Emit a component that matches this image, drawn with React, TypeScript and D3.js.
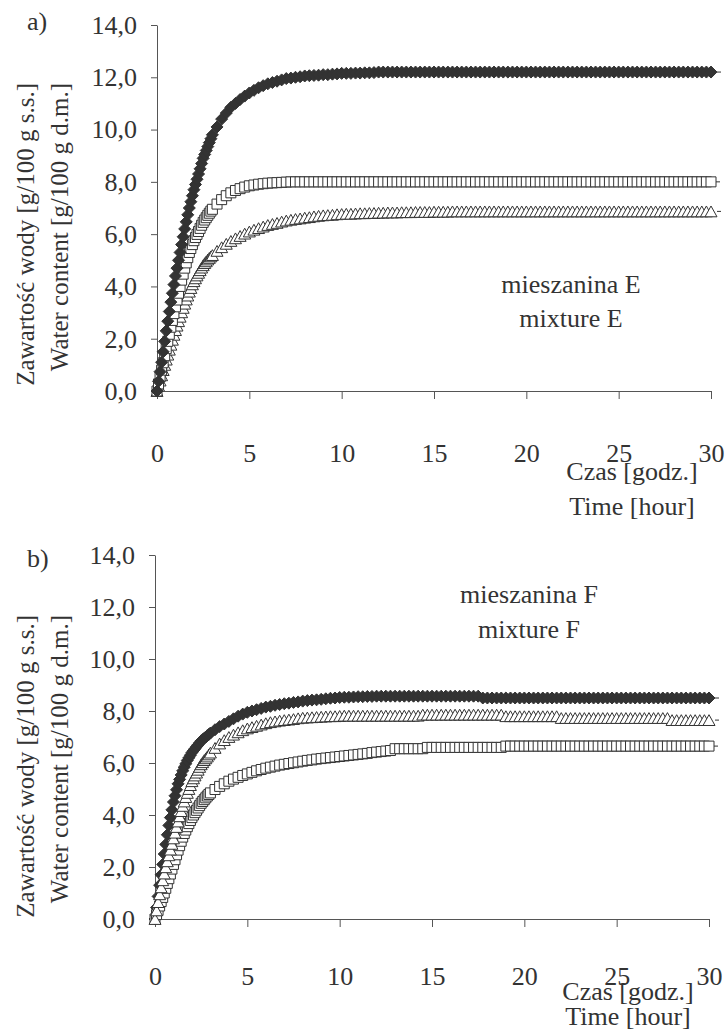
import React, { useEffect, useRef } from "react";
import * as d3 from "d3";

// sampling times in minutes: every 5 min for the first 3 h, then every 15 min
const TIME_MIN = [
    0, 5, 10, 15, 20, 25, 30, 35, 40, 45, 50, 55, 60, 65, 70, 75, 80, 85, 90, 95,
    100, 105, 110, 115, 120, 125, 130, 135, 140, 145, 150, 155, 160, 165, 170, 175,
    180, 195, 210, 225, 240, 255, 270, 285, 300, 315, 330, 345, 360, 375, 390, 405,
    420, 435, 450, 465, 480, 495, 510, 525, 540, 555, 570, 585, 600, 615, 630, 645,
    660, 675, 690, 705, 720, 735, 750, 765, 780, 795, 810, 825, 840, 855, 870, 885,
    900, 915, 930, 945, 960, 975, 990, 1005, 1020, 1035, 1050, 1065, 1080, 1095,
    1110, 1125, 1140, 1155, 1170, 1185, 1200, 1215, 1230, 1245, 1260, 1275, 1290,
    1305, 1320, 1335, 1350, 1365, 1380, 1395, 1410, 1425, 1440, 1455, 1470, 1485,
    1500, 1515, 1530, 1545, 1560, 1575, 1590, 1605, 1620, 1635, 1650, 1665, 1680,
    1695, 1710, 1725, 1740, 1755, 1770, 1785, 1800,
];

// mixture E
const E_DIAMOND = [
    0, 0.37, 0.74, 1.1, 1.5, 1.9, 2.3, 2.67, 3.04, 3.4, 3.74, 4.07, 4.4, 4.7, 5.0, 5.3, 5.6, 5.9,
    6.2, 6.47, 6.74, 7.0, 7.24, 7.47, 7.7, 7.9, 8.1, 8.3, 8.5, 8.7, 8.9, 9.05, 9.2, 9.35, 9.5, 9.65,
    9.8, 10.1, 10.4, 10.63, 10.85, 11.0, 11.15, 11.28, 11.4, 11.5, 11.6, 11.68, 11.75, 11.8, 11.85,
    11.9, 11.95, 11.97, 12.0, 12.02, 12.05, 12.06, 12.07, 12.08, 12.1, 12.1, 12.12, 12.13, 12.15,
    12.15, 12.15, 12.16, 12.16, 12.17, 12.17, 12.18,
    12.2, 12.2, 12.2, 12.2, 12.2, 12.2, 12.2, 12.2, 12.2, 12.2,
    12.2, 12.2, 12.2, 12.2, 12.2, 12.2, 12.2, 12.2, 12.2, 12.2,
    12.2, 12.2, 12.2, 12.2, 12.2, 12.2, 12.2, 12.2, 12.2, 12.2,
    12.2, 12.2, 12.2, 12.2, 12.2, 12.2, 12.2, 12.2, 12.2, 12.2,
    12.2, 12.2, 12.2, 12.2, 12.2, 12.2, 12.2, 12.2, 12.2, 12.2,
    12.2, 12.2, 12.2, 12.2, 12.2, 12.2, 12.2, 12.2, 12.2, 12.2,
    12.2, 12.2, 12.2, 12.2, 12.2, 12.2, 12.2, 12.2, 12.2, 12.2,
    12.2, 12.2, 12.2,
];
const E_SQUARE = [
    0, 0.27, 0.54, 0.8, 1.08, 1.35, 1.62, 1.9, 2.17, 2.44, 2.7, 2.96, 3.22, 3.48, 3.74, 4.0, 4.24,
    4.47, 4.7, 4.9, 5.1, 5.3, 5.45, 5.6, 5.75, 5.87, 5.99, 6.1, 6.22, 6.34, 6.45, 6.54, 6.63, 6.72,
    6.8, 6.88,
    6.95, 7.15, 7.32, 7.47, 7.58, 7.67, 7.74, 7.8, 7.85, 7.88, 7.91, 7.93, 7.95, 7.96, 7.97, 7.98, 7.99,
    8.0, 8.0, 8.0, 8.0, 8.0, 8.0, 8.0, 8.0, 8.0, 8.0,
    8.0, 8.0, 8.0, 8.0, 8.0, 8.0, 8.0, 8.0, 8.0, 8.0,
    8.0, 8.0, 8.0, 8.0, 8.0, 8.0, 8.0, 8.0, 8.0, 8.0,
    8.0, 8.0, 8.0, 8.0, 8.0, 8.0, 8.0, 8.0, 8.0, 8.0,
    8.0, 8.0, 8.0, 8.0, 8.0, 8.0, 8.0, 8.0, 8.0, 8.0,
    8.0, 8.0, 8.0, 8.0, 8.0, 8.0, 8.0, 8.0, 8.0, 8.0,
    8.0, 8.0, 8.0, 8.0, 8.0, 8.0, 8.0, 8.0, 8.0, 8.0,
    8.0, 8.0, 8.0, 8.0, 8.0, 8.0, 8.0, 8.0, 8.0, 8.0,
    8.0, 8.0, 8.0, 8.0, 8.0, 8.0, 8.0, 8.0, 8.0, 8.0,
    8.0, 8.0,
];
const E_TRIANGLE = [
    0, 0.2, 0.4, 0.6, 0.8, 1.0, 1.2, 1.39, 1.58, 1.77, 1.96, 2.15, 2.33, 2.5, 2.67, 2.84,
    3.01, 3.18, 3.34, 3.5, 3.65, 3.8, 3.94, 4.08, 4.2, 4.31, 4.42, 4.52, 4.62, 4.72, 4.81, 4.89,
    4.96, 5.03, 5.09, 5.15,
    5.2, 5.36, 5.5, 5.63, 5.74, 5.84, 5.93, 6.02, 6.1, 6.17, 6.23, 6.29, 6.35, 6.39, 6.43, 6.48,
    6.52, 6.55, 6.58, 6.6, 6.63, 6.65, 6.68, 6.7, 6.72, 6.73, 6.74, 6.76, 6.77, 6.78, 6.78, 6.79,
    6.8, 6.8, 6.81, 6.81, 6.82,
    6.82, 6.83, 6.83, 6.83, 6.84, 6.84, 6.84,
    6.85, 6.85, 6.85, 6.85, 6.86, 6.86, 6.86, 6.86,
    6.87, 6.87, 6.87, 6.87, 6.87, 6.87, 6.87, 6.87, 6.87, 6.87,
    6.87, 6.87, 6.87, 6.87, 6.87, 6.87, 6.87, 6.87, 6.87, 6.87,
    6.87, 6.87, 6.87, 6.87, 6.87, 6.87, 6.87, 6.87, 6.87, 6.87,
    6.87, 6.87, 6.87, 6.87, 6.87, 6.87, 6.87, 6.87, 6.87, 6.87,
    6.87, 6.87, 6.87, 6.87, 6.87, 6.87, 6.87, 6.87, 6.87, 6.87,
    6.87, 6.87, 6.87, 6.87, 6.87, 6.87, 6.87,
];

// mixture F
const F_DIAMOND = [
    0, 0.44, 0.87, 1.3, 1.7, 2.1, 2.5, 2.87, 3.24, 3.6, 3.9, 4.2, 4.5, 4.74, 4.97, 5.2, 5.37, 5.54,
    5.7, 5.84, 5.97, 6.1, 6.2, 6.3, 6.4, 6.48, 6.55, 6.63, 6.7, 6.78, 6.85, 6.9, 6.95, 7.0, 7.05, 7.1,
    7.15, 7.28, 7.4, 7.5, 7.6, 7.7, 7.8, 7.88, 7.95, 8.0, 8.05, 8.1, 8.15, 8.18, 8.22, 8.25, 8.28,
    8.3, 8.33, 8.35, 8.38, 8.4, 8.42, 8.43, 8.45, 8.47, 8.49, 8.5, 8.52, 8.53, 8.53, 8.54, 8.55,
    8.55, 8.56, 8.56,
    8.57, 8.57, 8.57, 8.57, 8.57, 8.57, 8.57, 8.57, 8.57, 8.57,
    8.57, 8.57, 8.57, 8.57, 8.57, 8.57, 8.57, 8.57, 8.57, 8.57,
    8.57, 8.57, 8.57,
    8.5, 8.5, 8.5, 8.5, 8.5, 8.5, 8.5, 8.5, 8.5, 8.5,
    8.5, 8.5, 8.5, 8.5, 8.5, 8.5, 8.5, 8.5, 8.5, 8.5,
    8.5, 8.5, 8.5, 8.5, 8.5, 8.5, 8.5, 8.5, 8.5, 8.5,
    8.5, 8.5, 8.5, 8.5, 8.5, 8.5, 8.5, 8.5, 8.5, 8.5,
    8.5, 8.5, 8.5, 8.5, 8.5, 8.5, 8.5, 8.5, 8.5, 8.5,
];
const F_SQUARE = [
    0, 0.17, 0.33, 0.5, 0.67, 0.83, 1.0, 1.18, 1.37, 1.55, 1.73, 1.92, 2.1, 2.28, 2.47, 2.65, 2.82,
    2.99, 3.15, 3.29, 3.42, 3.55, 3.67, 3.79, 3.9, 4.0, 4.09, 4.18, 4.27, 4.36, 4.45, 4.52, 4.59,
    4.66, 4.73, 4.79,
    4.85, 4.98, 5.1, 5.2, 5.3, 5.38, 5.45, 5.52, 5.58, 5.64, 5.7, 5.75, 5.8, 5.84, 5.88, 5.92, 5.95,
    5.98, 6.01, 6.04, 6.07, 6.1, 6.12, 6.15, 6.17, 6.19, 6.21, 6.23, 6.25, 6.27, 6.29, 6.31, 6.33,
    6.35, 6.37, 6.4,
    6.42, 6.44, 6.46, 6.48,
    6.55, 6.55, 6.55, 6.55, 6.55, 6.55, 6.55,
    6.6, 6.6, 6.6, 6.6, 6.6, 6.6, 6.6, 6.6, 6.6, 6.6, 6.6, 6.6, 6.6, 6.6, 6.6, 6.6, 6.6,
    6.65, 6.65, 6.65, 6.65, 6.65, 6.65, 6.65, 6.65, 6.65, 6.65,
    6.65, 6.65, 6.65, 6.65, 6.65, 6.65, 6.65, 6.65, 6.65, 6.65,
    6.65, 6.65, 6.65, 6.65, 6.65, 6.65, 6.65, 6.65, 6.65, 6.65,
    6.65, 6.65, 6.65, 6.65, 6.65, 6.65, 6.65, 6.65, 6.65, 6.65,
    6.65, 6.65, 6.65, 6.65, 6.65,
];
const F_TRIANGLE = [
    0, 0.33, 0.65, 0.95, 1.22, 1.49, 1.75, 1.99, 2.22, 2.45, 2.67, 2.89, 3.1, 3.32, 3.54, 3.75,
    3.95, 4.15, 4.35, 4.52, 4.69, 4.85, 5.0, 5.15, 5.3, 5.41, 5.52, 5.63, 5.74, 5.85, 5.95, 6.03,
    6.11, 6.18, 6.25, 6.33,
    6.4, 6.58, 6.75, 6.88, 7.0, 7.09, 7.18, 7.26, 7.33, 7.38, 7.43, 7.48, 7.53, 7.57, 7.6, 7.63,
    7.65, 7.67, 7.69, 7.72, 7.74, 7.75, 7.76, 7.77, 7.78, 7.79, 7.8, 7.8, 7.81,
    7.82, 7.82, 7.82, 7.82, 7.82, 7.82, 7.82, 7.82, 7.82, 7.82, 7.82, 7.82, 7.82, 7.82, 7.82, 7.82, 7.82,
    7.86, 7.86, 7.86, 7.86, 7.86, 7.86, 7.86, 7.86, 7.86, 7.86, 7.86, 7.86, 7.86, 7.86, 7.86, 7.86, 7.86, 7.86,
    7.8, 7.8, 7.8, 7.8, 7.8, 7.8, 7.8, 7.8, 7.8, 7.8, 7.8, 7.8,
    7.73, 7.73, 7.73, 7.73, 7.73, 7.73, 7.73, 7.73, 7.73, 7.73, 7.73, 7.73,
    7.73, 7.73, 7.73, 7.73, 7.73, 7.73, 7.73, 7.73, 7.73, 7.73, 7.73, 7.73,
    7.65, 7.65, 7.65, 7.65, 7.65, 7.65, 7.65, 7.65, 7.65,
];

const Y_TICKS = [0, 2, 4, 6, 8, 10, 12, 14];
const X_TICKS = [0, 5, 10, 15, 20, 25, 30];
const Y_TITLE_PL = "Zawartość wody [g/100 g s.s.]";
const Y_TITLE_EN = "Water content [g/100 g d.m.]";
const X_TITLE_PL = "Czas [godz.]";
const X_TITLE_EN = "Time [hour]";

const FONT = "Liberation Serif, Times New Roman, serif";
const INK = "#333333";

// marker shapes, size = width in px
const diamond = {
    draw(ctx, s) {
        const r = s / 2;
        ctx.moveTo(0, -r);
        ctx.lineTo(r, 0);
        ctx.lineTo(0, r);
        ctx.lineTo(-r, 0);
        ctx.closePath();
    },
};
const square = {
    draw(ctx, s) {
        const r = s / 2;
        ctx.rect(-r, -r, s, s);
    },
};
const triangle = {
    draw(ctx, s) {
        const w = s / 2;
        const h = s * 0.45;
        ctx.moveTo(0, -h);
        ctx.lineTo(w, h);
        ctx.lineTo(-w, h);
        ctx.closePath();
    },
};

const MARKERS = {
    diamond: { type: diamond, size: 12, fill: INK },
    square: { type: square, size: 10, fill: "#ffffff" },
    triangle: { type: triangle, size: 12, fill: "#ffffff" },
};

const panels = [
    {
        tag: "a)",
        tagPos: [27, 30],
        plot: { left: 157, right: 711, top: 25, bottom: 391 },
        tickPad: 45,
        mix: ["mieszanina E", "mixture E"],
        mixPos: [571, 293, 327],
        xTitle: [632, 480, 515],
        yTitle: [34, 68, 83],
        // draw order: last one on top
        series: [
            { values: E_TRIANGLE, marker: "triangle" },
            { values: E_SQUARE, marker: "square" },
            { values: E_DIAMOND, marker: "diamond" },
        ],
    },
    {
        tag: "b)",
        tagPos: [27, 567],
        plot: { left: 155, right: 709, top: 555, bottom: 919 },
        tickPad: 40,
        mix: ["mieszanina F", "mixture F"],
        mixPos: [529, 603, 638],
        xTitle: [628, 1000, 1025],
        yTitle: [34, 68, 615],
        series: [
            { values: F_DIAMOND, marker: "diamond" },
            { values: F_SQUARE, marker: "square" },
            { values: F_TRIANGLE, marker: "triangle" },
        ],
    },
];

function App() {
    const svgRef = useRef(null);

    useEffect(() => {
        const width = 727;
        const height = 1031;
        const svg = d3.select(svgRef.current)
            .attr("width", width)
            .attr("height", height);

        svg.selectAll("*").remove();

        const fmt = d => d3.format(".1f")(d).replace(".", ",");

        panels.forEach(p => {
            const { left, right, top, bottom } = p.plot;
            const x = d3.scaleLinear().domain([0, 30]).range([left, right]);
            const y = d3.scaleLinear().domain([0, 14]).range([bottom, top]);
            const g = svg.append("g");

            // y axis
            const ya = g.append("g")
                .attr("transform", `translate(${left},0)`)
                .call(d3.axisLeft(y).tickValues(Y_TICKS).tickSize(6).tickSizeOuter(0)
                    .tickPadding(14).tickFormat(fmt));

            // x axis
            const xa = g.append("g")
                .attr("transform", `translate(0,${bottom})`)
                .call(d3.axisBottom(x).tickValues(X_TICKS).tickSize(8).tickSizeOuter(0)
                    .tickPadding(p.tickPad).tickFormat(d3.format("d")));

            [ya, xa].forEach(a => {
                a.attr("font-family", FONT).attr("font-size", 26);
                a.selectAll("path, line").attr("stroke", "#555").attr("stroke-width", 1);
                a.selectAll("text").attr("fill", INK);
            });

            // markers
            p.series.forEach(s => {
                const m = MARKERS[s.marker];
                const sym = d3.symbol().type(m.type).size(m.size);
                const pts = s.values.map((v, i) => ({ t: TIME_MIN[i] / 60, v }))
                    .filter(d => !isNaN(d.t));

                g.append("g")
                    .selectAll("path")
                    .data(pts)
                    .enter()
                    .append("path")
                    .attr("d", sym)
                    .attr("transform", d => `translate(${x(d.t)},${y(d.v)})`)
                    .attr("fill", m.fill)
                    .attr("stroke", INK)
                    .attr("stroke-width", 1);

                // small stub after the last point
                const last = pts[pts.length - 1];
                g.append("line")
                    .attr("x1", x(last.t) + m.size / 2)
                    .attr("x2", x(last.t) + m.size / 2 + 4)
                    .attr("y1", y(last.v))
                    .attr("y2", y(last.v))
                    .attr("stroke", INK)
                    .attr("stroke-width", 1);
            });

            const text = (tx, ty, str, anchor = "middle") =>
                g.append("text")
                    .attr("x", tx)
                    .attr("y", ty)
                    .attr("text-anchor", anchor)
                    .attr("font-family", FONT)
                    .attr("font-size", 26)
                    .attr("fill", INK)
                    .text(str);

            text(p.tagPos[0], p.tagPos[1], p.tag, "start");
            text(p.mixPos[0], p.mixPos[1], p.mix[0]);
            text(p.mixPos[0], p.mixPos[2], p.mix[1]);
            text(p.xTitle[0], p.xTitle[1], X_TITLE_PL);
            text(p.xTitle[0], p.xTitle[2], X_TITLE_EN);

            // rotated y titles, anchored at their top end
            [[p.yTitle[0], Y_TITLE_PL], [p.yTitle[1], Y_TITLE_EN]].forEach(([tx, str]) => {
                g.append("text")
                    .attr("transform", `translate(${tx},${p.yTitle[2]}) rotate(-90)`)
                    .attr("text-anchor", "end")
                    .attr("font-family", FONT)
                    .attr("font-size", 25)
                    .attr("fill", INK)
                    .text(str);
            });
        });
    }, []);

    return (
        <div style={{ position: "absolute", left: 0, top: 0 }}>
            <svg ref={svgRef} style={{ display: "block" }}></svg>
        </div>
    );
}

export default App;
